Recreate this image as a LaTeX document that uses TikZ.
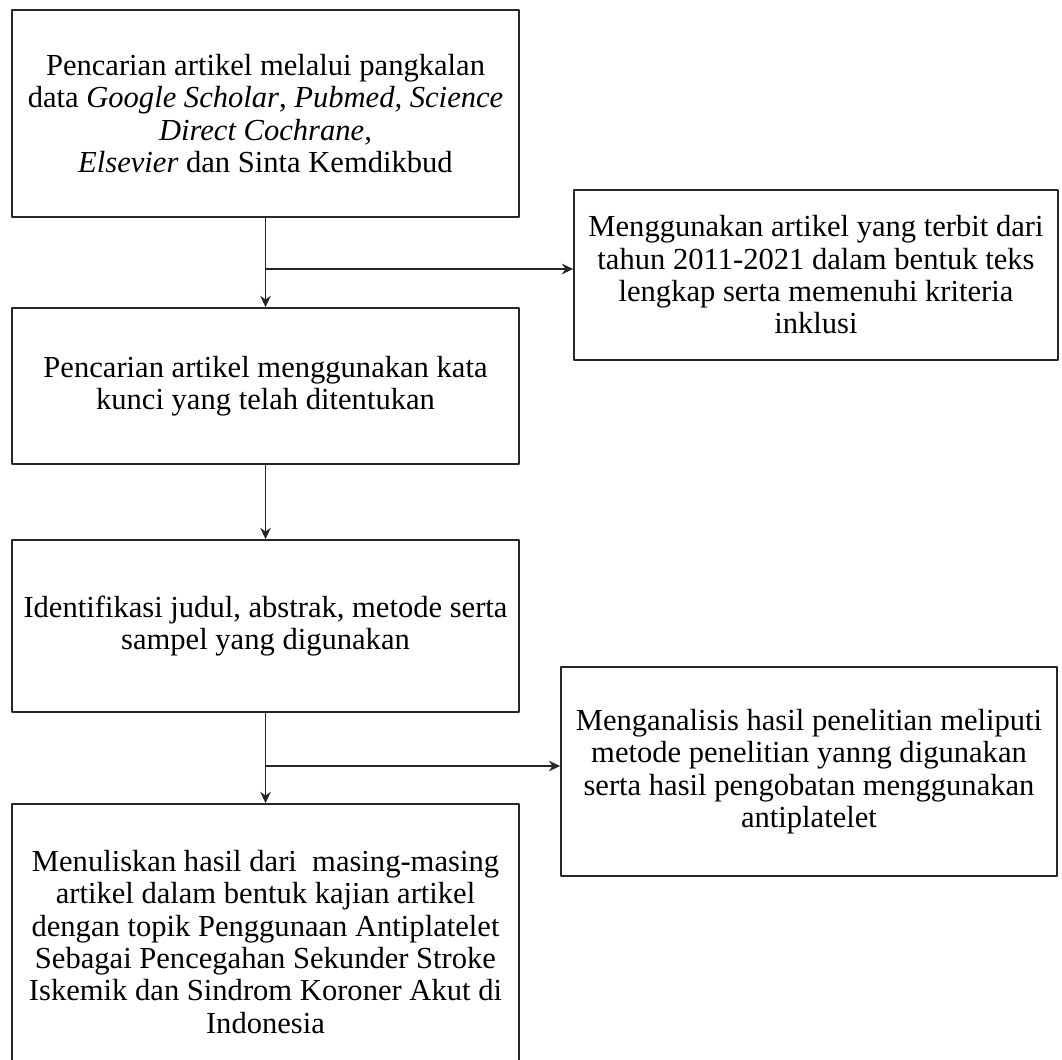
\documentclass[tikz,border=0pt]{standalone}
\usepackage{fontspec}
\setmainfont{Liberation Serif}
\usetikzlibrary{arrows.meta}

\begin{document}
\begin{tikzpicture}[join=round,
        box/.style={draw=black!85,line width=0.5pt,align=center,inner sep=0pt,
                font=\fontsize{8.7}{9.2}\selectfont},
        flow/.style={draw=black!85,line width=0.5pt,-{Stealth[length=3.2pt,width=3pt]}}]
        \useasboundingbox (0,0) rectangle (10.62,10.59);
        % left column
        \node[box,minimum width=5.07cm,minimum height=2.07cm] (cari) at (2.655,9.455)
                {Pencarian artikel melalui pangkalan\\
                 data \textit{Google Scholar}, \textit{Pubmed, Science}\\
                 \textit{Direct Cochrane,}\\
                 \textit{Elsevier} dan Sinta Kemdikbud};
        \node[box,minimum width=5.07cm,minimum height=1.56cm] (kunci) at (2.655,6.73)
                {Pencarian artikel menggunakan kata\\kunci yang telah ditentukan};
        \node[box,minimum width=5.07cm,minimum height=1.72cm] (ident) at (2.655,4.33)
                {Identifikasi judul, abstrak, metode serta\\sampel yang digunakan};
        \node[box,minimum width=5.07cm,minimum height=2.76cm] (tulis) at (2.655,1.17)
                {Menuliskan hasil dari\ \ masing-masing\\
                 artikel dalam bentuk kajian artikel\\
                 dengan topik Penggunaan Antiplatelet\\
                 Sebagai Pencegahan Sekunder Stroke\\
                 Iskemik dan Sindrom Koroner Akut di\\
                 Indonesia};
        % right column
        \node[box,minimum width=4.84cm,minimum height=1.70cm] (inklusi) at (8.16,7.84)
                {Menggunakan artikel yang terbit dari\\
                 tahun 2011-2021 dalam bentuk teks\\
                 lengkap serta memenuhi kriteria\\
                 inklusi};
        \node[box,minimum width=4.96cm,minimum height=2.09cm] (analisis) at (8.09,2.875)
                {Menganalisis hasil penelitian meliputi\\
                 metode penelitian yanng digunakan\\
                 serta hasil pengobatan menggunakan\\
                 antiplatelet};
        % connectors
        \coordinate (cab1) at (2.655,7.90);
        \coordinate (cab2) at (2.655,2.93);
        \draw[flow] (cari) -- (kunci);
        \draw[flow] (cab1) -- (cab1 -| inklusi.west);
        \draw[flow] (kunci) -- (ident);
        \draw[flow] (ident) -- (tulis);
        \draw[flow] (cab2) -- (cab2 -| analisis.west);
\end{tikzpicture}
\end{document}
